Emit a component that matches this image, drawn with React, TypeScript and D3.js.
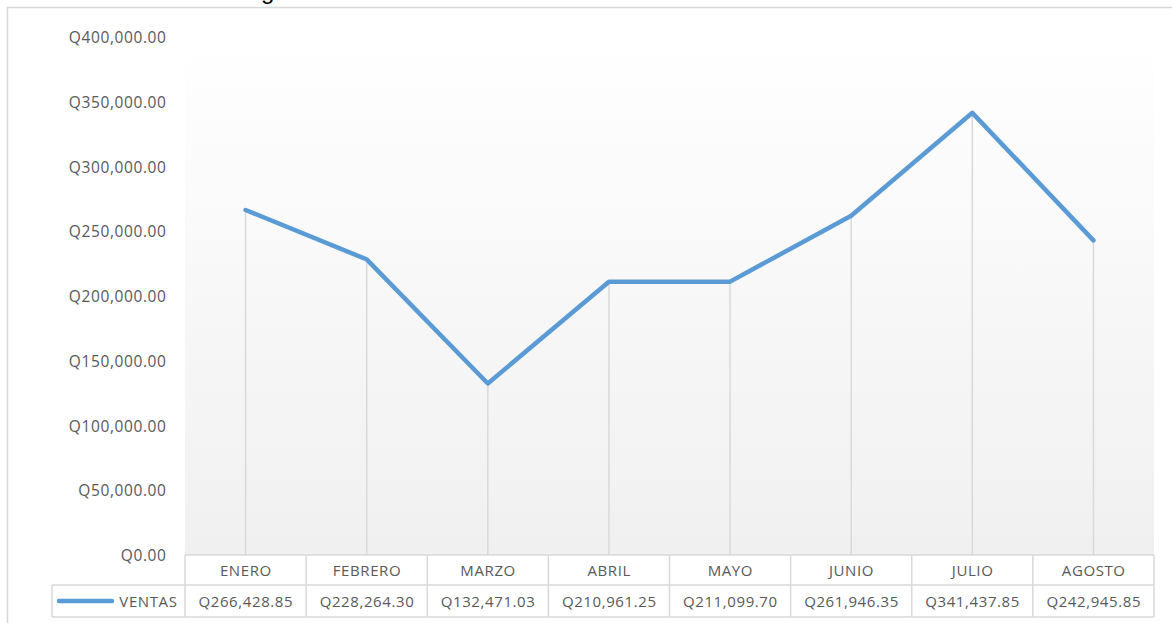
import React from 'react'
import * as d3 from 'd3'

const months = ['ENERO', 'FEBRERO', 'MARZO', 'ABRIL', 'MAYO', 'JUNIO', 'JULIO', 'AGOSTO']
const ventas = [266428.85, 228264.3, 132471.03, 210961.25, 211099.7, 261946.35, 341437.85, 242945.85]
const yTicks = [0, 50000, 100000, 150000, 200000, 250000, 300000, 350000, 400000]
const seriesName = 'VENTAS'

const W = 1172
const H = 623
const FONT = "'Open Sans', 'Noto Sans', sans-serif"
const TEXT = '#595959'
const GRID = '#d9d9d9'
const BLUE = '#5b9bd5'

const money = (v: number, decimals = 2) =>
  'Q' + d3.format(`,.${decimals}f`)(v)

export default function App() {
  const plot = { left: 185, right: 1154, top: 37, bottom: 555 }
  const legendLeft = 52
  const rowH = [30, 32]

  const x = d3.scaleBand<string>().domain(months).range([plot.left, plot.right])
  const y = d3.scaleLinear().domain([0, 400000]).range([plot.bottom, plot.top])
  const cx = (m: string) => (x(m) ?? 0) + x.bandwidth() / 2

  const line = d3
    .line<number>()
    .x((_, i) => cx(months[i]))
    .y((d) => y(d))

  const row1Top = plot.bottom
  const row2Top = row1Top + rowH[0]
  const row2Bottom = row2Top + rowH[1]

  return (
    <svg
      width={W}
      height={H}
      style={{ position: 'fixed', left: 0, top: 0, background: '#fff' }}
      fontFamily={FONT}
    >
      <defs>
        <linearGradient id="plotBg" x1="0" y1="0" x2="0" y2="1">
          <stop offset="0" stopColor="#ffffff" />
          <stop offset="1" stopColor="#f0f0f0" />
        </linearGradient>
      </defs>

      {/* chart frame */}
      <rect x={7.5} y={7.5} width={W} height={H} fill="#fff" stroke={GRID} strokeWidth={1.5} />

      {/* title, mostly cut off by the top edge */}
      <text y={-1} fontSize={24} fill="#000" fontFamily="'Liberation Sans', sans-serif">
        <tspan x={261} textAnchor="end">Ventas de enero a a</tspan>
        <tspan x={261} textAnchor="start">gosto</tspan>
      </text>

      {/* plot area */}
      <rect
        x={plot.left}
        y={plot.top}
        width={plot.right - plot.left}
        height={plot.bottom - plot.top}
        fill="url(#plotBg)"
      />

      {/* y axis labels */}
      {yTicks.map((t) => (
        <text
          key={t}
          x={166.5}
          y={y(t)}
          textAnchor="end"
          dominantBaseline="central"
          fontSize={15.5}
          letterSpacing={0.6}
          fill={TEXT}
        >
          {money(t)}
        </text>
      ))}

      {/* drop lines */}
      {ventas.map((v, i) => (
        <line
          key={months[i]}
          x1={cx(months[i])}
          x2={cx(months[i])}
          y1={y(v)}
          y2={plot.bottom}
          stroke={GRID}
          strokeWidth={1.5}
        />
      ))}

      {/* series */}
      <path
        d={line(ventas) ?? ''}
        fill="none"
        stroke={BLUE}
        strokeWidth={4.5}
        strokeLinejoin="round"
        strokeLinecap="round"
      />

      {/* data table */}
      <g stroke={GRID} strokeWidth={1.5} fill="none">
        <line x1={plot.left} x2={plot.right} y1={row1Top} y2={row1Top} />
        <line x1={legendLeft} x2={plot.right} y1={row2Top} y2={row2Top} />
        <line x1={legendLeft} x2={plot.right} y1={row2Bottom} y2={row2Bottom} />
        <line x1={legendLeft} x2={legendLeft} y1={row2Top} y2={row2Bottom} />
        {months.map((m) => (
          <line key={m} x1={x(m)} x2={x(m)} y1={row1Top} y2={row2Bottom} />
        ))}
        <line x1={plot.right} x2={plot.right} y1={row1Top} y2={row2Bottom} />
      </g>

      {months.map((m, i) => (
        <g key={m} fontSize={15} letterSpacing={0.6} fill={TEXT} textAnchor="middle">
          <text x={cx(m) + 0.3} y={row1Top + rowH[0] / 2} dominantBaseline="central">
            {m}
          </text>
          <text x={cx(m) + 0.3} y={row2Top + rowH[1] / 2} dominantBaseline="central">
            {money(ventas[i])}
          </text>
        </g>
      ))}

      {/* legend key */}
      <line
        x1={59}
        x2={112}
        y1={row2Top + rowH[1] / 2}
        y2={row2Top + rowH[1] / 2}
        stroke={BLUE}
        strokeWidth={4.5}
        strokeLinecap="round"
      />
      <text
        x={177.5}
        y={row2Top + rowH[1] / 2}
        textAnchor="end"
        dominantBaseline="central"
        fontSize={15}
        letterSpacing={0.6}
        fill={TEXT}
      >
        {seriesName}
      </text>
    </svg>
  )
}
